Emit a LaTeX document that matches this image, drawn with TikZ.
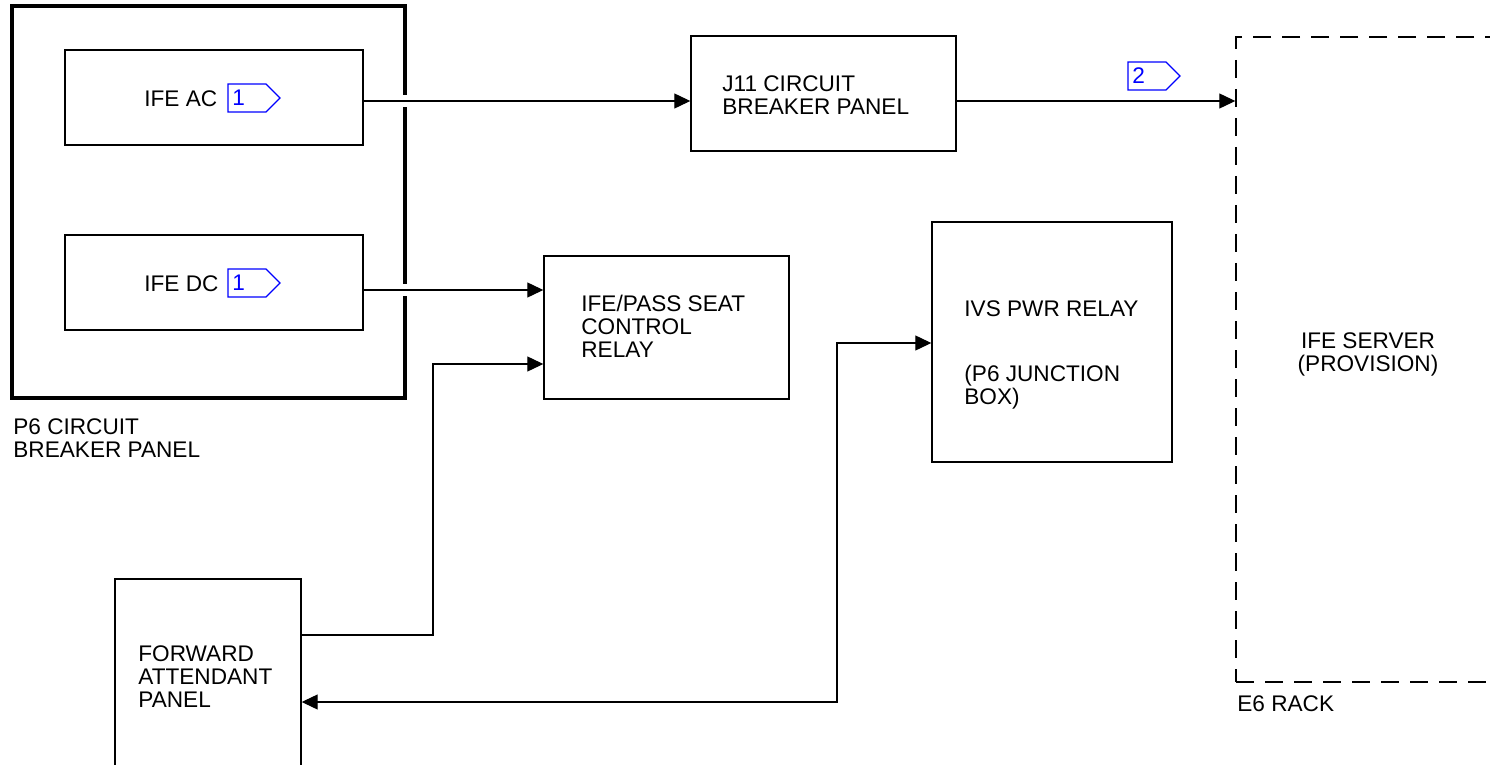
\documentclass[tikz,border=0pt]{standalone}
\usepackage{fontspec}
\setmainfont{Liberation Sans}
\usetikzlibrary{arrows.meta,fit}
\newcommand\pdtag[4]{%
  \draw[tagline] (#2,#3-14) -- (#2+38,#3-14) -- (#2+52,#3) -- (#2+38,#3+14) -- (#2,#3+14) -- cycle;
  \node[tagtext] (#1) at (#2+4,#3) {#4};}
\begin{document}
\begin{tikzpicture}[x=0.5pt,y=-0.5pt,
  box/.style={draw, line width=0.7pt, inner sep=0pt, rectangle},
  panel/.style={draw, line width=2pt, inner sep=0pt, rectangle},
  rackbox/.style={draw, line width=0.7pt, inner sep=0pt, rectangle, dash pattern=on 9pt off 5.5pt},
  lbl/.style={anchor=north west, inner sep=0pt, align=left, font=\fontsize{11.3}{11.5}\selectfont},
  clbl/.style={anchor=north, inner sep=0pt, align=center, font=\fontsize{11.3}{11.5}\selectfont},
  conn/.style={line width=0.6pt, -{Triangle[length=8pt,width=7.5pt]}},
  conn2/.style={line width=0.6pt, {Triangle[length=8pt,width=7.5pt]}-{Triangle[length=8pt,width=7.5pt]}},
  tagline/.style={draw=blue, line width=0.55pt},
  tagtext/.style={anchor=west, inner sep=0pt, text=blue, font=\fontsize{11.3}{11.5}\selectfont}]
\useasboundingbox (0,0) rectangle (1490,765);
\clip (0,0) rectangle (1490,765);

% rows
\coordinate (r1) at (0,101);
\coordinate (r2) at (0,290);
\coordinate (r3) at (0,635);
\coordinate (c1) at (433,364);
\coordinate (c2) at (837,343);
\coordinate (r4) at (0,702);

% P6 panel
\node[panel, fit={(12,6) (405,398)}] (p6) {};
\fill[white] (398,95) rectangle (412,107);
\fill[white] (398,284) rectangle (412,296);
\node[lbl] (p6l) at (13,418) {P6 CIRCUIT\\BREAKER PANEL};

\node[box, fill=white, fit={(65,50) (363,145)}] (ac) {};
\node[lbl] (acl) at (144,90) {IFE AC};
\pdtag{t1}{228}{98}{1}

\node[box, fill=white, fit={(65,235) (363,330)}] (dc) {};
\node[lbl] (dcl) at (144,275) {IFE DC};
\pdtag{t2}{228}{283}{1}

% J11
\node[box, fit={(691,36) (956,151)}] (j11) {};
\node[lbl] (j11l) at (722,75) {J11 CIRCUIT\\BREAKER PANEL};

% relay
\node[box, fit={(544,256) (789,399)}] (relay) {};
\node[lbl] (relayl) at (581,295) {IFE/PASS SEAT\\CONTROL\\RELAY};

% IVS
\node[box, fit={(932,222) (1172,462)}] (ivs) {};
\node[lbl] (ivsl) at (964,300) {IVS PWR RELAY\\[21pt](P6 JUNCTION\\BOX)};

% forward attendant panel
\node[box, fit={(115,579) (301,820)}] (fap) {};
\node[lbl] (fapl) at (138,645) {FORWARD\\ATTENDANT\\PANEL};

% E6 rack
\node[rackbox, fit={(1236,37) (1540,682)}] (rack) {};
\node[lbl] (rackl) at (1237,695) {E6 RACK};
\node[clbl] (srv) at (1368,332) {IFE SERVER\\(PROVISION)};
\pdtag{t3}{1128}{76}{2}

% connectors
\draw[conn] (ac.east |- r1) -- (j11.west |- r1);
\draw[conn] (j11.east |- r1) -- (rack.west |- r1);
\draw[conn] (dc.east |- r2) -- (relay.west |- r2);
\draw[conn] (fap.east |- r3) -| (c1) -- (relay.west |- c1);
\draw[conn2] (ivs.west |- c2) -- (c2) |- (fap.east |- r4);
\end{tikzpicture}
\end{document}
